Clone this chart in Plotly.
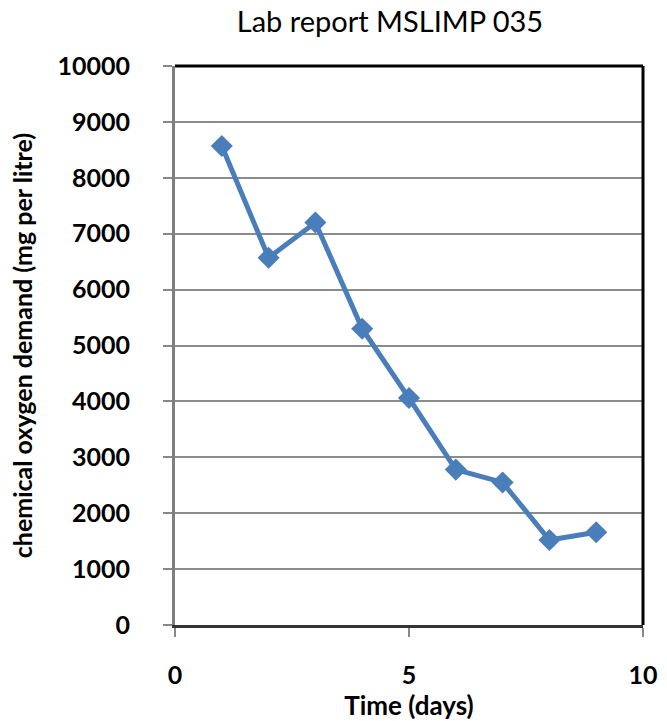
import plotly.graph_objects as go

days = [1, 2, 3, 4, 5, 6, 7, 8, 9]
cod = [8570, 6570, 7200, 5300, 4060, 2780, 2550, 1520, 1660]
x_ticks = [0, 5, 10]
y_ticks = list(range(0, 10001, 1000))

FONT = "Lato"
BLUE = "#4A7EBB"

fig = go.Figure()
fig.add_trace(go.Scatter(
    x=days, y=cod, mode="lines+markers",
    line=dict(color=BLUE, width=5),
    marker=dict(symbol="diamond", size=17, color=BLUE),
    showlegend=False,
))

fig.update_layout(
    width=667, height=721,
    margin=dict(l=175, r=24, t=66, b=96),
    paper_bgcolor="white", plot_bgcolor="white",
    title=dict(text="Lab report MSLIMP 035", x=390/667, xanchor="center",
               y=1 - 22/721, yanchor="middle",
               font=dict(family=FONT, size=29, color="black")),
    font=dict(family=FONT, color="black"),
)

fig.update_xaxes(
    range=[0, 10], tickvals=x_ticks, ticktext=[str(v) for v in x_ticks],
    showgrid=False, zeroline=False, automargin=False,
    showline=True, linecolor="#333333", linewidth=3,
    ticks="outside", ticklen=9, tickcolor="#888888", tickwidth=2,
    ticklabelstandoff=17,
    tickfont=dict(family=FONT, size=25, color="black", weight="bold"),
    title=dict(text="<b>Time (days)</b>", standoff=0,
               font=dict(family=FONT, size=26, color="black")),
)
fig.update_yaxes(
    range=[0, 10000], tickvals=y_ticks, ticktext=[str(v) for v in y_ticks],
    showgrid=True, gridcolor="#8c8c8c", gridwidth=2,
    zeroline=False, automargin=False,
    showline=True, linecolor="#7f7f7f", linewidth=3,
    ticks="outside", ticklen=9, tickcolor="#888888", tickwidth=2,
    ticklabelstandoff=28,
    tickfont=dict(family=FONT, size=25, color="black", weight="bold"),
    title=dict(text="<b>chemical oxygen demand (mg per litre)</b>", standoff=18,
               font=dict(family=FONT, size=25, color="black")),
)

# top and right frame borders
fig.add_shape(type="line", xref="x domain", yref="y domain", x0=0, x1=1, y0=1, y1=1,
              line=dict(color="black", width=3))
fig.add_shape(type="line", xref="x domain", yref="y domain", x0=1, x1=1, y0=0, y1=1,
              line=dict(color="black", width=3))

fig.write_html("out.html")
